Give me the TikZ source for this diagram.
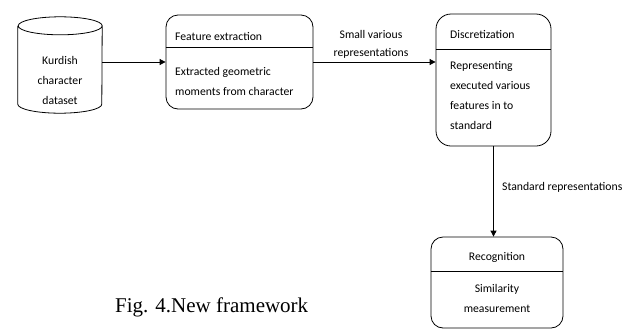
\documentclass[tikz,border=0pt]{standalone}
\usepackage{fontspec}
\setmainfont{Carlito}
\newfontfamily\capfont{Liberation Serif}
\usepackage{tikz}
\usetikzlibrary{
	arrows.meta
}
\newcommand{\lfbox}[1]{%
	\begin{tabular}{@{}l@{}}
		#1
	\end{tabular}%
}
\newcommand{\cnbox}[1]{%
	\begin{tabular}{@{}c@{}}
		#1
	\end{tabular}%
}
\tikzset{
	stage/.style={draw,thick,rounded corners=12pt,inner sep=0pt},
	flow/.style={thick,-{Triangle[length=6pt,width=6pt]}},
	lbl/.style={inner sep=0pt,font=\fontsize{11.7}{20}\selectfont}
}

\begin{document}
\begin{tikzpicture}[x=1pt,y=-1pt]
			\useasboundingbox (0,0) rectangle (631,330);

			\node[minimum width=84pt,minimum height=96pt,inner sep=0pt] (data) at (60,65) {};
			\node[stage,minimum width=147pt,minimum height=94pt] (feat) at (239.5,62) {};
			\node[stage,rounded corners=15pt,minimum width=115pt,minimum height=132pt] (disc) at (493.5,80) {};
			\node[stage,minimum width=132pt,minimum height=91pt] (recog) at (497,282.5) {};

			\draw[thick]
				([yshift=-9pt]data.north west) -- ([yshift=9pt]data.south west)
				arc (180:360:42pt and 9pt) -- ([yshift=-9pt]data.north east)
				arc (0:180:42pt and 9pt)
				arc (180:360:42pt and 9pt)
			;

			\draw[thick] (feat.west |- 0,47) -- (feat.east |- 0,47);
			\draw[thick] (disc.west |- 0,49) -- (disc.east |- 0,49);
			\draw[thick] (recog.west |- 0,271) -- (recog.east |- 0,271);

			\node[lbl] (datatxt) at (60,80) {\cnbox{Kurdish \\ character \\ dataset}};
			\node[lbl,anchor=west] (feathead) at (175,36) {Feature extraction};
			\node[lbl,anchor=west] (featbody) at (175,81) {\lfbox{Extracted geometric \\ moments from character}};
			\node[lbl,anchor=west] (dischead) at (450,34) {Discretization};
			\node[lbl,anchor=west] (discbody) at (450,95) {\lfbox{Representing \\ executed various \\ features in to \\ standard}};
			\node[lbl] (recoghead) at (497,257) {Recognition};
			\node[lbl] (recogbody) at (497,298) {\cnbox{Similarity \\ measurement}};

			\draw[flow] (data.east |- feat.west) -- (feat.west);
			\draw[flow] (feat.east) -- (feat.east -| disc.west);
			\draw[flow] (disc.south) -- (disc.south |- recog.north);

			\node[lbl,font=\fontsize{11.7}{18}\selectfont] (smalllbl) at (371,44) {\cnbox{Small various \\ representations}};
			\node[lbl,anchor=west] (stdlbl) at (502,187) {Standard representations};

			\node[anchor=base west,inner sep=0pt,font=\capfont\fontsize{21}{24}\selectfont] (caption) at (115,312) {Fig. 4.New framework};
		\end{tikzpicture}
\end{document}
